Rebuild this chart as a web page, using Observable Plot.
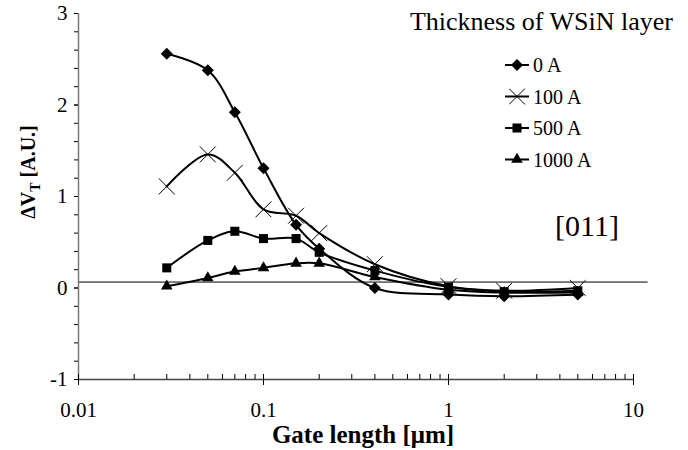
<!DOCTYPE html>
<html>
<head>
<meta charset="utf-8">
<script src="https://cdn.jsdelivr.net/npm/d3@7"></script>
<script src="https://cdn.jsdelivr.net/npm/@observablehq/plot@0.6"></script>
<style>
  html, body { margin: 0; padding: 0; background: #fff; }
  #wrap { position: relative; width: 688px; height: 450px; }
  svg text { font-family: "Liberation Serif", Tinos, "Times New Roman", Times, "DejaVu Serif", serif !important; }
</style>
</head>
<body>
<div id="wrap"><div id="chart"></div></div>
<script>
// ---- data ----
const gateLength = [0.03, 0.05, 0.07, 0.1, 0.15, 0.2, 0.4, 1, 2, 5];
const dv0    = [2.56, 2.38, 1.92, 1.31, 0.69, 0.43, 0.00, -0.07, -0.09, -0.07];
const dv100  = [1.11, 1.46, 1.26, 0.86, 0.79, 0.60, 0.26, 0.02, -0.03, 0.00];
const dv500  = [0.22, 0.52, 0.62, 0.54, 0.54, 0.39, 0.19, 0.01, -0.04, -0.03];
const dv1000 = [0.02, 0.11, 0.18, 0.22, 0.27, 0.27, 0.12, -0.02, -0.05, -0.05];
const seriesNames = ["0 A", "100 A", "500 A", "1000 A"];
const seriesSymbols = ["diamond2", "times", "square", "triangle"];
const xTicks = [0.01, 0.1, 1, 10];
const xTickLabels = ["0.01", "0.1", "1", "10"];
const yTicks = [-1, 0, 1, 2, 3];
const yTickLabels = ["-1", "0", "1", "2", "3"];
const refLevel = [0.065];
const legendTitle = "Thickness of WSiN layer";
const annotation = "[011]";

const serif = '"Liberation Serif", Tinos, "Times New Roman", Times, "DejaVu Serif", serif';
const allSeries = [dv0, dv100, dv500, dv1000];
const rowsOf = vals => gateLength.map((g, i) => ({g, v: vals[i]}));
const minorX = [0.01, 0.1, 1].flatMap(d => d3.range(2, 10).map(k => +(k * d).toPrecision(3)));
const minorY = d3.range(-1, 3.001, 0.2).map(d => +d.toFixed(1));
const symR = {diamond2: 5.4, times: 7.3, square: 5.1, triangle: 4.3};

const lineMarks = allSeries.map(vals =>
  Plot.line(rowsOf(vals), {x: "g", y: "v", curve: "catmull-rom", stroke: "black", strokeWidth: 2}));
const dotMarks = allSeries.map((vals, k) => {
  const s = seriesSymbols[k];
  const stroked = s === "times";
  return Plot.dot(rowsOf(vals), {x: "g", y: "v", symbol: s, r: symR[s],
    fill: stroked ? "none" : "black", stroke: stroked ? "black" : "none", strokeWidth: 1});
});

const chart = Plot.plot({
  width: 688, height: 450,
  marginLeft: 78, marginRight: 55, marginTop: 13, marginBottom: 71,
  style: {fontFamily: serif, fontSize: "21px", background: "white", color: "black"},
  x: {type: "log", domain: [0.01, 10]},
  y: {domain: [-1, 3]},
  marks: [
    Plot.ruleY(refLevel, {x1: 0.01, x2: 12, stroke: "black", strokeWidth: 1, clip: false}),
    Plot.axisY({ticks: minorY, tickSize: 4, tickFormat: () => "", label: null}),
    Plot.axisY({ticks: yTicks, tickSize: 4, tickPadding: 7, label: null,
      tickFormat: d => yTickLabels[yTicks.indexOf(d)], fontSize: 21}),
    Plot.ruleX([0.01], {stroke: "#777", strokeWidth: 1.5}),
    Plot.ruleY([-1], {stroke: "#444", strokeWidth: 1.5}),
    Plot.axisX({ticks: minorX, tickSize: 5, dy: -5, tickFormat: () => "", label: null}),
    Plot.axisX({ticks: xTicks, tickSize: 11, dy: -5, tickFormat: () => "", label: null}),
    Plot.axisX({ticks: xTicks, tickSize: 0, tickPadding: 23, label: null,
      tickFormat: d => xTickLabels[xTicks.indexOf(d)], fontSize: 21}),
    ...lineMarks,
    ...dotMarks
  ]
});
document.getElementById("chart").appendChild(chart);

// axis titles
const svg = d3.select(chart);
const yl = svg.append("text")
  .attr("transform", "translate(35,172) rotate(-90)")
  .attr("text-anchor", "middle")
  .attr("font-weight", "bold").attr("font-size", 20).attr("fill", "black");
yl.append("tspan").text("\u0394V");
yl.append("tspan").attr("font-size", 14).attr("dy", 5).text("T");
yl.append("tspan").attr("dy", -5).text(" [A.U.]");
svg.append("text")
  .attr("x", 363).attr("y", 443).attr("text-anchor", "middle")
  .attr("font-weight", "bold").attr("font-size", 25).attr("fill", "black")
  .text("Gate length [\u03bcm]");
svg.append("text")
  .attr("x", 673).attr("y", 30).attr("text-anchor", "end")
  .attr("font-size", 26).attr("fill", "black")
  .text(legendTitle);
svg.append("text")
  .attr("x", 587).attr("y", 236).attr("text-anchor", "middle")
  .attr("font-size", 30).attr("fill", "black")
  .text(annotation);

// legend
const legendSymbols = {diamond2: d3.symbolDiamond2, times: d3.symbolTimes, square: d3.symbolSquare, triangle: d3.symbolTriangle};
const lg = svg.append("g").attr("font-size", 20).attr("text-anchor", "start");
seriesNames.forEach((name, k) => {
  const cy = 65 + k * 31.5;
  const s = seriesSymbols[k];
  const g = lg.append("g").attr("transform", `translate(517,${cy})`);
  g.append("line").attr("x1", -12).attr("x2", 12).attr("stroke", "black").attr("stroke-width", 2);
  const stroked = s === "times";
  g.append("path").attr("d", d3.symbol(legendSymbols[s], Math.PI * symR[s] ** 2)())
    .attr("fill", stroked ? "none" : "black").attr("stroke", stroked ? "black" : "none");
  g.append("text").attr("x", 16).attr("y", 7).attr("fill", "black").attr("text-anchor", "start").text(name);
});
</script>
</body>
</html>
